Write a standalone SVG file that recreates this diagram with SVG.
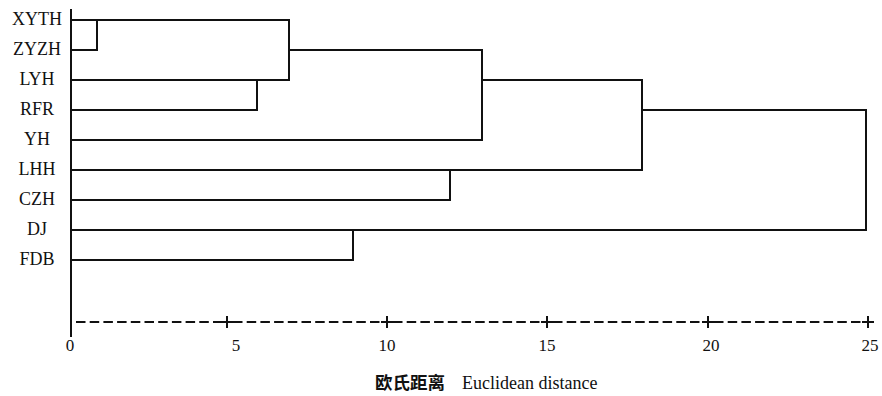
<svg xmlns="http://www.w3.org/2000/svg" width="882" height="396" viewBox="0 0 882 396">
  <style>
    .lbl { font-family: "Liberation Serif", "Times New Roman", serif; font-size: 18px; fill: #111; text-anchor: middle; }
    .num { font-family: "Liberation Serif", "Times New Roman", serif; font-size: 17px; fill: #111; text-anchor: middle; }
    .title-en { font-family: "Liberation Serif", "Times New Roman", serif; font-size: 18px; fill: #111; }
    .title-zh { font-family: "Noto Sans CJK SC", sans-serif; font-size: 17.5px; font-weight: bold; fill: #111; }
    .link { fill: none; stroke: #111; stroke-width: 2; stroke-linejoin: miter; stroke-linecap: square; }
    .axis { fill: none; stroke: #111; stroke-width: 2; }
    .dash { fill: none; stroke: #111; stroke-width: 2; stroke-dasharray: 9.5 4.2; }
  </style>
  <rect width="882" height="396" fill="#fff"/>

  <!-- leaf labels -->
  <g id="node-XYTH"><text class="lbl" x="37" y="25">XYTH</text></g>
  <g id="node-ZYZH"><text class="lbl" x="37" y="55">ZYZH</text></g>
  <g id="node-LYH"><text class="lbl" x="37" y="85">LYH</text></g>
  <g id="node-RFR"><text class="lbl" x="37" y="115">RFR</text></g>
  <g id="node-YH"><text class="lbl" x="37" y="145">YH</text></g>
  <g id="node-LHH"><text class="lbl" x="37" y="175">LHH</text></g>
  <g id="node-CZH"><text class="lbl" x="37" y="205">CZH</text></g>
  <g id="node-DJ"><text class="lbl" x="37" y="235">DJ</text></g>
  <g id="node-FDB"><text class="lbl" x="37" y="265">FDB</text></g>

  <!-- dendrogram links -->
  <g id="connectors">
    <path class="link" d="M71 20 H289 V80 H71"/>
    <path class="link" d="M71 50 H97 V20"/>
    <path class="link" d="M71 110 H257 V80"/>
    <path class="link" d="M289 50 H482 V140 H71"/>
    <path class="link" d="M482 80 H642 V170 H71"/>
    <path class="link" d="M71 200 H450 V170"/>
    <path class="link" d="M642 110 H866 V230 H71"/>
    <path class="link" d="M71 260 H353 V230"/>
  </g>

  <!-- distance axis -->
  <g id="axis">
    <line class="axis" x1="71" y1="9" x2="71" y2="337"/>
    <line class="dash" x1="76" y1="322" x2="222" y2="322"/>
    <line class="dash" x1="233" y1="322" x2="382" y2="322"/>
    <line class="dash" x1="393" y1="322" x2="542" y2="322"/>
    <line class="dash" x1="553" y1="322" x2="703" y2="322"/>
    <line class="dash" x1="714" y1="322" x2="863" y2="322"/>
    <path class="axis" d="M221 322 H233 M227 316 V328"/>
    <path class="axis" d="M381 322 H393 M387 316 V328"/>
    <path class="axis" d="M541 322 H553 M547 316 V328"/>
    <path class="axis" d="M702 322 H714 M708 316 V328"/>
    <path class="axis" d="M862 322 H874 M868 316 V328"/>
    <text class="num" x="70" y="351">0</text>
    <text class="num" x="236" y="351">5</text>
    <text class="num" x="387" y="351">10</text>
    <text class="num" x="547" y="351">15</text>
    <text class="num" x="711" y="351">20</text>
    <text class="num" x="870" y="351">25</text>
    <text class="title-zh" x="375" y="389">欧氏距离</text>
    <text class="title-en" x="462" y="389">Euclidean distance</text>
  </g>
</svg>
